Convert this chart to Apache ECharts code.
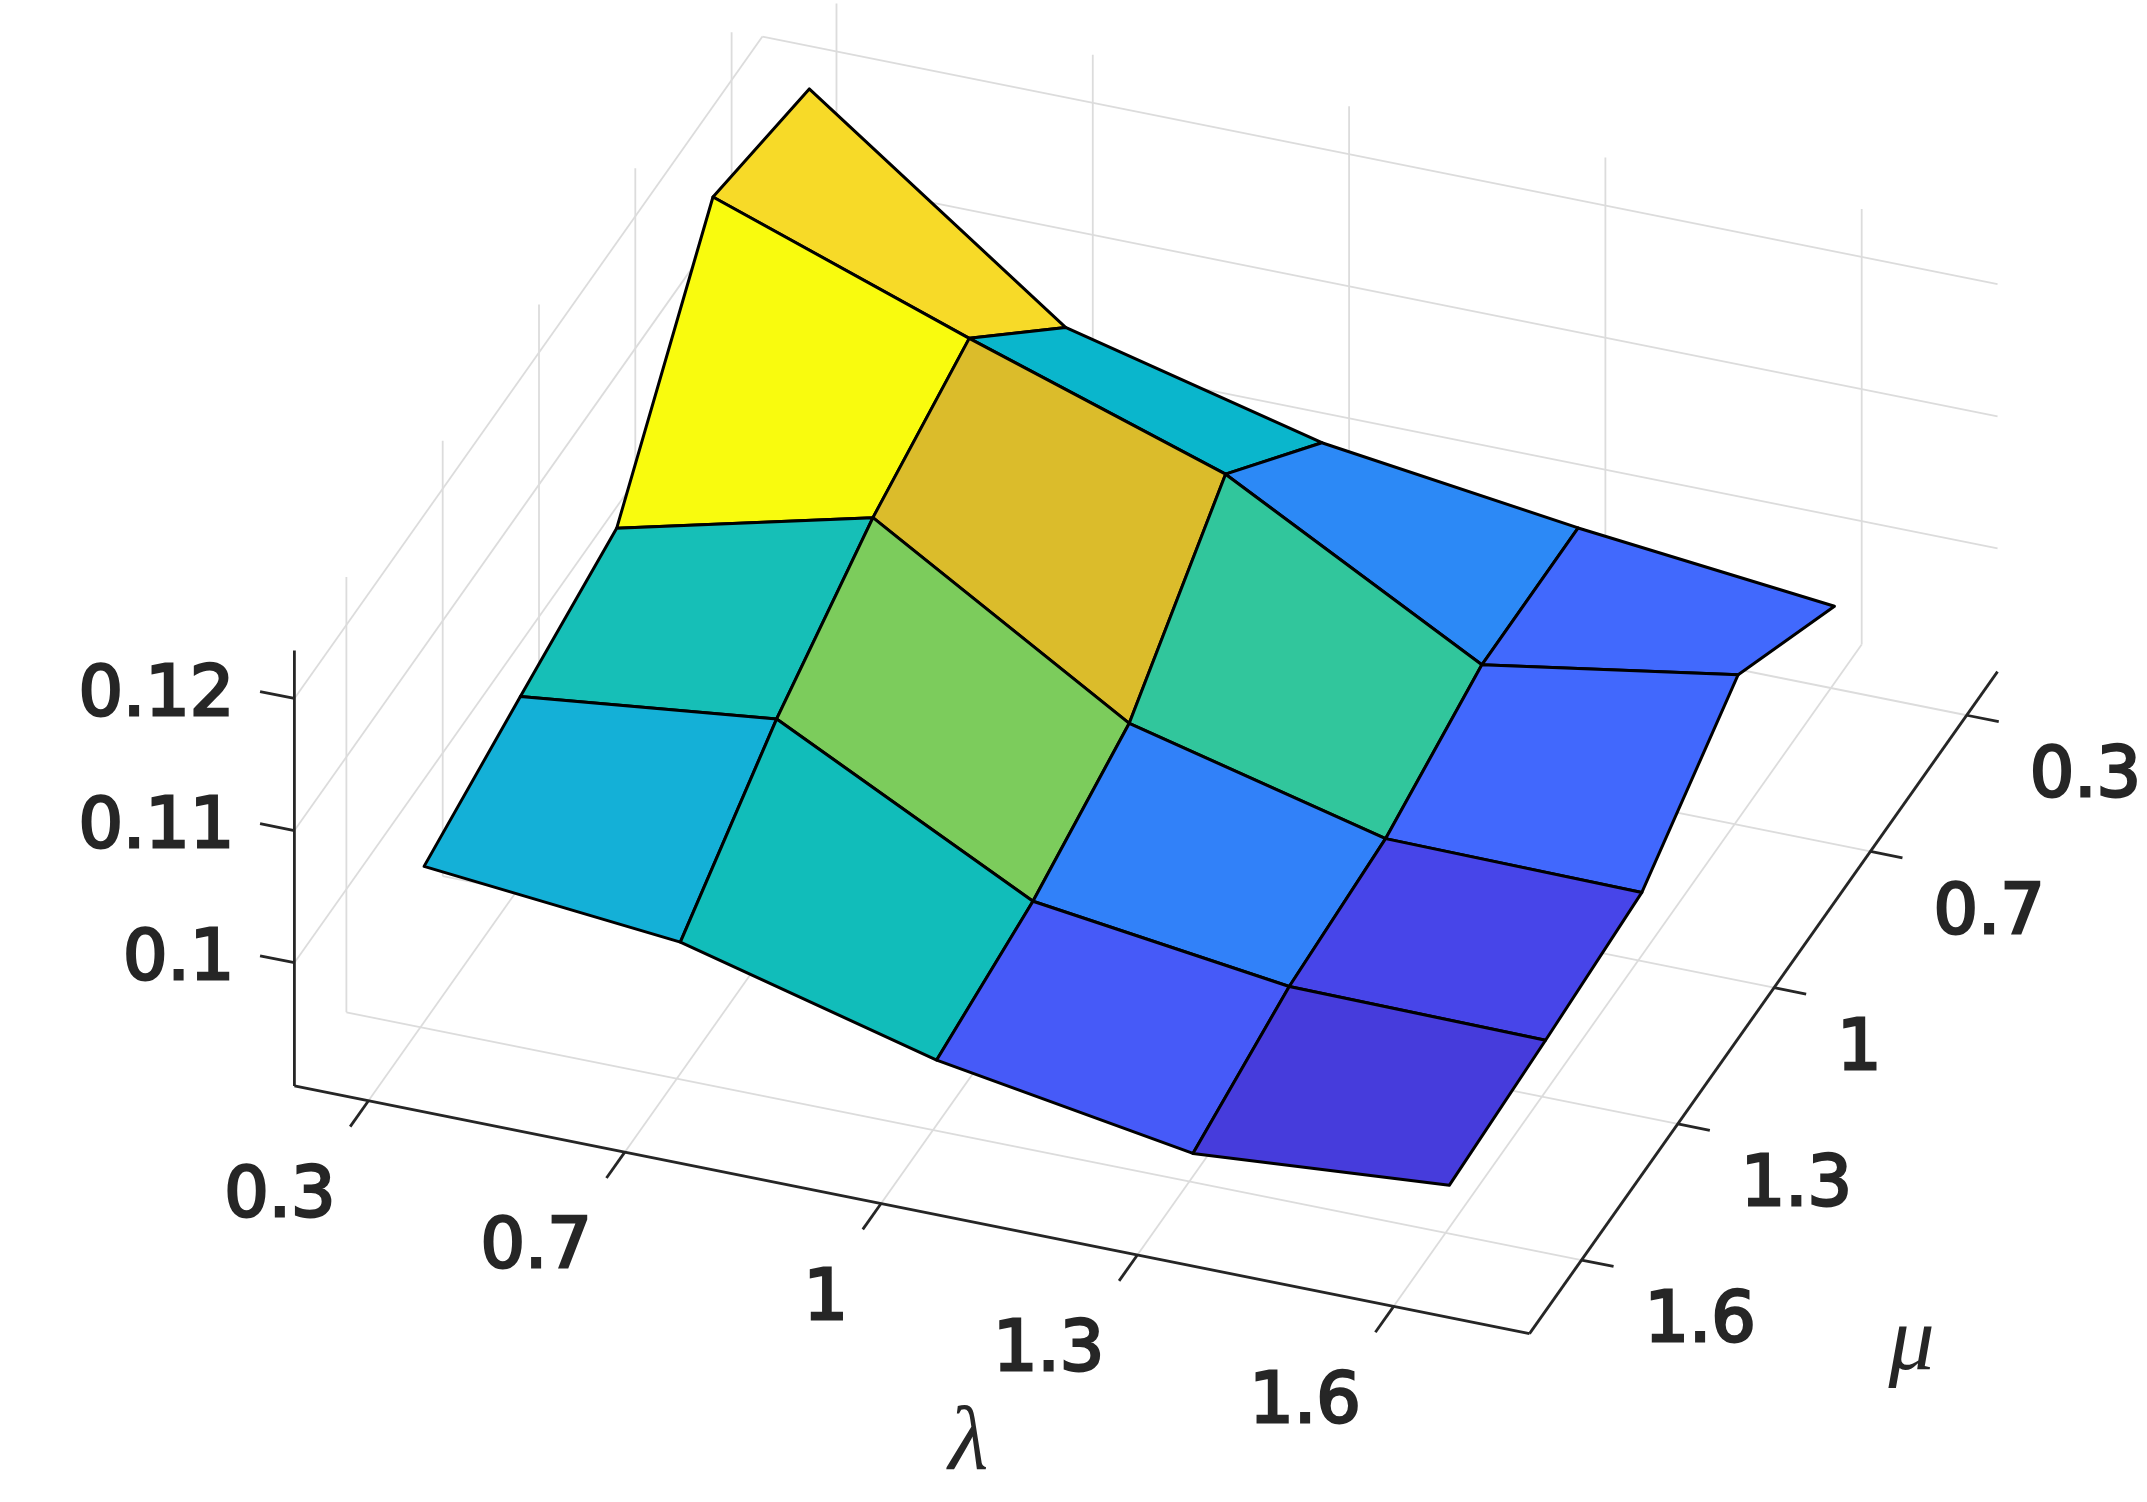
<!DOCTYPE html>
<html>
<head>
<meta charset="utf-8">
<title>surface</title>
<style>
html, body { margin: 0; padding: 0; background: #fff; }
#showcase { width: 2147px; height: 1502px; }
</style>
<script src="https://cdn.jsdelivr.net/npm/echarts@6/dist/echarts.min.js"></script>
</head>
<body>
<div id="showcase"></div>
<script>
// tick labels
var lambdaTicks = ['0.3', '0.7', '1', '1.3', '1.6'];
var muTicks = ['0.3', '0.7', '1', '1.3', '1.6'];
var zTicks = [0.1, 0.11, 0.12];

// surface height, one list per mu, left to right along lambda
var zMu03 = [0.12051, 0.10635, 0.10151, 0.09895, 0.09691];
var zMu07 = [0.12264, 0.11583, 0.10944, 0.0989, 0.10204];
var zMu10 = [0.10787, 0.11257, 0.10089, 0.09605, 0.09587];
var zMu13 = [0.10544, 0.10764, 0.09773, 0.09517, 0.09499];
var zMu16 = [0.1029, 0.10106, 0.09602, 0.09284, 0.09432];
var zRows = [zMu03, zMu07, zMu10, zMu13, zMu16];

// axis limits, in tick positions for lambda and mu
var pMin = -0.289, pMax = 4.53;
var qMin = -0.54, qMax = 4.32;
var zMin = 0.09067, zMax = 0.12363;

// 视角: orthographic view, screen offset per step of each axis
var originX = 294.4, originY = 1085.9;
var pStep = [256.3, 51.4];
var qStep = [96.3, -136.2];
var zScale = 13210;
var meshShift = 0.014;

// parula
var parula = ['#3e26a8', '#4332cb', '#4741e5', '#4752f4', '#4563fd', '#3875fe',
    '#2d87f7', '#2796eb', '#20a5e2', '#12b1d6', '#02bac3', '#24c2ae', '#37c894',
    '#57cc7a', '#80cc59', '#abc739', '#d6bd28', '#efba36', '#febd3c', '#f8d02c',
    '#f5e424', '#f9fb0e'];

var textColor = '#262626';
var gridColor = '#dcdcdc';

function project(p, q, z) {
    var dp = p - pMin, dq = q - qMin;
    return [
        originX + dp * pStep[0] + dq * qStep[0],
        originY + dp * pStep[1] + dq * qStep[1] - (z - zMin) * zScale
    ];
}

// mu 0.3 sits at the back
function qOf(row) { return muTicks.length - 1 - row; }

function segment(a, b) {
    return [a[0], a[1], a[2], b[0], b[1], b[2]];
}

// 网格线
var gridLines = [];
lambdaTicks.forEach(function (t, p) {
    gridLines.push(segment([p, qMin, zMin], [p, qMax, zMin]));
    gridLines.push(segment([p, qMax, zMin], [p, qMax, zMax]));
});
muTicks.forEach(function (t, row) {
    var q = qOf(row);
    gridLines.push(segment([pMin, q, zMin], [pMax, q, zMin]));
    gridLines.push(segment([pMin, q, zMin], [pMin, q, zMax]));
});
zTicks.forEach(function (z) {
    gridLines.push(segment([pMin, qMin, z], [pMin, qMax, z]));
    gridLines.push(segment([pMin, qMax, z], [pMax, qMax, z]));
});

// 坐标轴和刻度
var axisLines = [
    segment([pMin, qMin, zMin], [pMin, qMin, zMax]),
    segment([pMin, qMin, zMin], [pMax, qMin, zMin]),
    segment([pMax, qMin, zMin], [pMax, qMax, zMin])
];
lambdaTicks.forEach(function (t, p) {
    axisLines.push(segment([p, qMin, zMin], [p, qMin - 0.19, zMin]));
});
muTicks.forEach(function (t, row) {
    axisLines.push(segment([pMax, qOf(row), zMin], [pMax + 0.125, qOf(row), zMin]));
});
zTicks.forEach(function (z) {
    axisLines.push(segment([pMin, qMin, z], [pMin - 0.134, qMin, z]));
});

// faces back to front, colour comes from the corner at the lower lambda and lower mu
var faces = [];
for (var row = 0; row < zRows.length - 1; row++) {
    for (var col = 0; col < lambdaTicks.length - 1; col++) {
        faces.push([row, col, zRows[row][col]]);
    }
}
var allZ = [].concat(zMu03, zMu07, zMu10, zMu13, zMu16);

function lineItem(color, width) {
    return function (params, api) {
        var a = api.coord(project(api.value(0), api.value(1), api.value(2)));
        var b = api.coord(project(api.value(3), api.value(4), api.value(5)));
        return {
            type: 'line',
            silent: true,
            shape: { x1: a[0], y1: a[1], x2: b[0], y2: b[1] },
            style: { stroke: color, lineWidth: width, fill: null }
        };
    };
}

function faceItem(params, api) {
    var r = api.value(0), c = api.value(1);
    var corners = [[r, c], [r, c + 1], [r + 1, c + 1], [r + 1, c]].map(function (rc) {
        return api.coord(project(rc[1] + meshShift, qOf(rc[0]), zRows[rc[0]][rc[1]]));
    });
    return {
        type: 'polygon',
        shape: { points: corners },
        style: { fill: api.visual('color'), stroke: '#000', lineWidth: 3, lineJoin: 'round' }
    };
}

function labelItem(params, api) {
    var d = labels[params.dataIndex];
    var pos = api.coord(project(d.at[0], d.at[1], d.at[2]));
    return {
        type: 'text',
        style: {
            text: d.text,
            x: pos[0] + d.dx,
            y: pos[1] + d.dy,
            align: d.align,
            verticalAlign: 'middle',
            fill: textColor,
            stroke: d.bold ? textColor : null,
            lineWidth: d.bold ? 2.8 : 0,
            font: d.font
        }
    };
}

var tickFont = '70px "DejaVu Sans"';
var labels = [];
lambdaTicks.forEach(function (t, p) {
    labels.push({ text: t, at: [p, qMin, zMin], dx: -33, dy: 97, align: 'right', font: tickFont, bold: true });
});
muTicks.forEach(function (t, row) {
    labels.push({ text: t, at: [pMax, qOf(row), zMin], dx: 63, dy: 63, align: 'left', font: tickFont, bold: true });
});
zTicks.forEach(function (z) {
    labels.push({ text: String(z), at: [pMin, qMin, z], dx: -60, dy: -2, align: 'right', font: tickFont, bold: true });
});
labels.push({ text: 'λ', at: [2.45, qMin, zMin], dx: -28, dy: 218, align: 'center', font: 'italic 92px "Liberation Serif"' });
labels.push({ text: 'μ', at: [pMax, 0, zMin], dx: 330, dy: 85, align: 'center', font: 'italic 92px "Liberation Serif"' });

var myChart = echarts.init(document.getElementById('showcase'));
var options = {
    backgroundColor: '#fff',
    animation: false,
    grid: { left: 0, right: 0, top: 0, bottom: 0 },
    xAxis: { type: 'value', min: 0, max: 2147, show: false },
    yAxis: { type: 'value', min: 0, max: 1502, inverse: true, show: false },
    visualMap: {
        show: false,
        seriesIndex: 1,
        dimension: 2,
        min: Math.min.apply(null, allZ),
        max: Math.max.apply(null, allZ),
        inRange: { color: parula }
    },
    series: [
        { type: 'custom', name: 'grid', clip: false, silent: true, data: gridLines, renderItem: lineItem(gridColor, 1.8) },
        { type: 'custom', name: 'surface', clip: false, silent: true, data: faces, renderItem: faceItem },
        { type: 'custom', name: 'axes', clip: false, silent: true, data: axisLines, renderItem: lineItem(textColor, 2.8) },
        { type: 'custom', name: 'labels', clip: false, silent: true, data: labels.map(function (d, i) { return [i]; }), renderItem: labelItem }
    ]
};
myChart.setOption(options);
</script>
</body>
</html>
